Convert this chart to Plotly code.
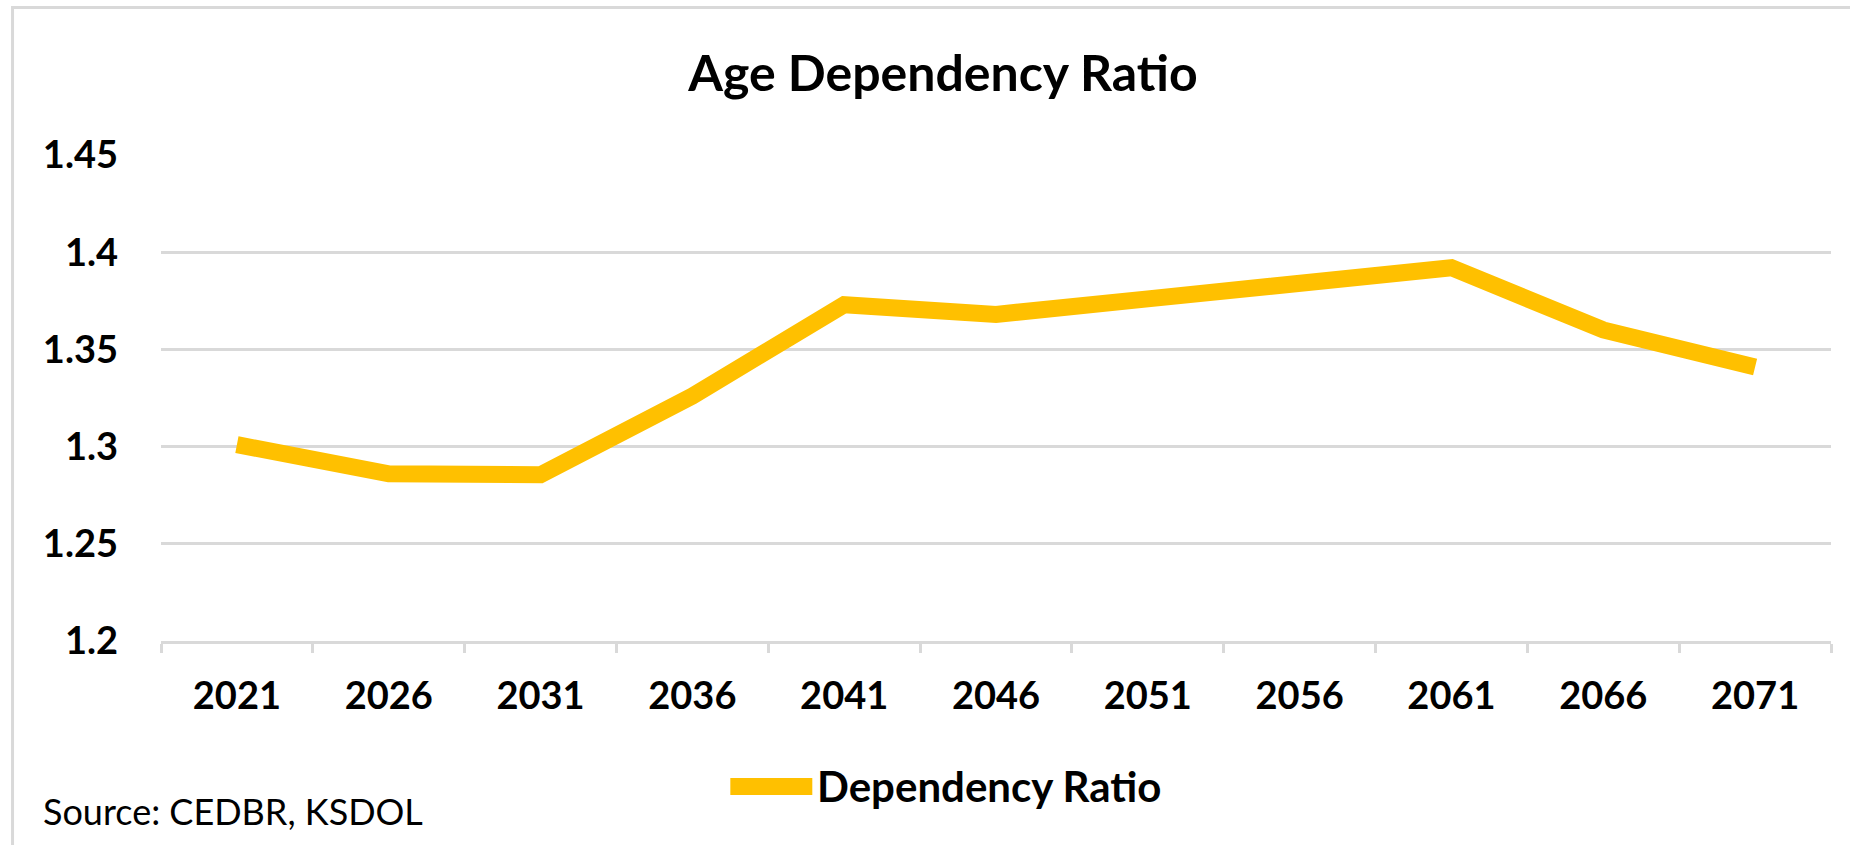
import plotly.graph_objects as go

# Age dependency ratio projections
years = ["2021", "2026", "2031", "2036", "2041", "2046", "2051", "2056", "2061", "2066", "2071"]
ratio = [1.301, 1.286, 1.2855, 1.326, 1.373, 1.368, 1.376, 1.384, 1.392, 1.360, 1.341]
y_ticks = [1.2, 1.25, 1.3, 1.35, 1.4, 1.45]
y_tick_text = ["1.2", "1.25", "1.3", "1.35", "1.4", "1.45"]

series_name = "Dependency Ratio"
title_text = "Age Dependency Ratio"
source_text = "Source: CEDBR, KSDOL"

W, H = 1850, 845
PLOT_L, PLOT_R = 160.5, 1831
PLOT_T, PLOT_B = 154.6, 640.6
GOLD = "#FFC000"
GRID = "#D9D9D9"
FONT = "Lato"


def px_x(px):
    return (px - PLOT_L) / (PLOT_R - PLOT_L)


def px_y(py):
    return (PLOT_B - py) / (PLOT_B - PLOT_T)


fig = go.Figure()
fig.add_trace(go.Scatter(
    x=years, y=ratio, mode="lines", name=series_name,
    line=dict(color=GOLD, width=17),
    showlegend=False,
))

shapes = [
    # outer chart border (light grey frame)
    dict(type="rect", xref="paper", yref="paper",
         x0=px_x(12), x1=px_x(1900), y0=px_y(7), y1=px_y(900),
         line=dict(color=GRID, width=3), fillcolor="rgba(0,0,0,0)", layer="below"),
    # legend swatch
    dict(type="line", xref="paper", yref="paper",
         x0=px_x(730), x1=px_x(812), y0=px_y(786), y1=px_y(786),
         line=dict(color=GOLD, width=17)),
]

annotations = [
    dict(text=series_name, xref="paper", yref="paper",
         x=px_x(815), y=px_y(786), xanchor="left", yanchor="middle",
         showarrow=False, font=dict(family=FONT, size=42, color="#000000", weight="bold")),
    dict(text=source_text, xref="paper", yref="paper",
         x=px_x(40), y=px_y(811), xanchor="left", yanchor="middle",
         showarrow=False, font=dict(family=FONT, size=36, color="#000000")),
]

fig.update_layout(
    width=W, height=H,
    margin=dict(l=PLOT_L, r=W - PLOT_R, t=PLOT_T, b=H - PLOT_B),
    paper_bgcolor="white", plot_bgcolor="white",
    title=dict(text=title_text, x=943 / W, y=1 - 73 / H, xanchor="center", yanchor="middle",
               xref="container", yref="container",
               font=dict(family=FONT, size=50, color="#000000", weight="bold")),
    shapes=shapes,
    annotations=annotations,
    xaxis=dict(
        type="category", range=[-0.5, len(years) - 0.5],
        tickson="boundaries", ticks="outside", ticklen=9,
        tickwidth=2.5, tickcolor=GRID, showline=True, linecolor=GRID, linewidth=2.5,
        showgrid=False, tickfont=dict(family=FONT, size=38, color="#000000", weight="bold"),
        ticklabelstandoff=20, fixedrange=True,
    ),
    yaxis=dict(
        range=[1.2, 1.45], tickvals=y_ticks, ticktext=y_tick_text,
        showgrid=True, gridcolor=GRID, gridwidth=2.5, zeroline=False,
        showline=False, ticks="",
        tickfont=dict(family=FONT, size=38, color="#000000", weight="bold"),
        ticklabelstandoff=42, fixedrange=True,
    ),
)

fig.write_html("out.html")
